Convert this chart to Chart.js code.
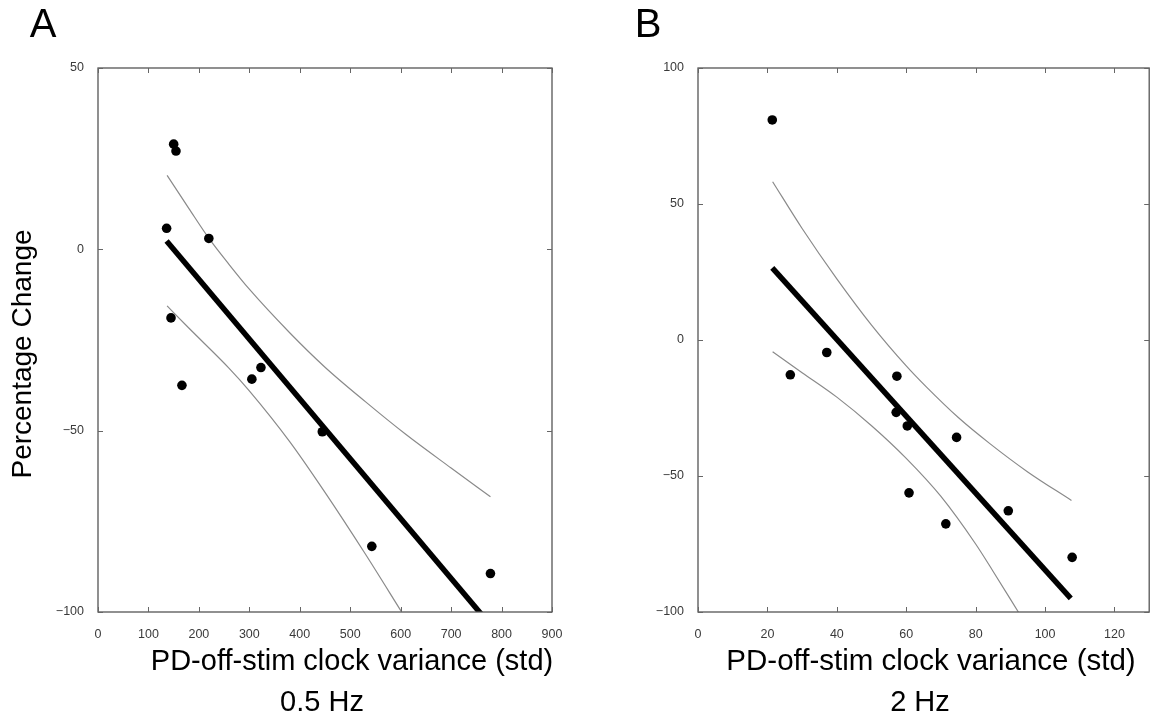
<!DOCTYPE html>
<html>
<head>
<meta charset="utf-8">
<script src="https://cdn.jsdelivr.net/npm/chart.js@4.4.0/dist/chart.umd.min.js"></script>
<style>
  html, body { margin: 0; padding: 0; background: #fff; }
  #wrap { position: relative; width: 1154px; height: 721px; overflow: hidden; }
  .cv { position: absolute; top: 0; }
</style>
</head>
<body>
<div id="wrap">
  <div class="cv" style="left:0;width:577px;height:721px;"><canvas id="ca"></canvas></div>
  <div class="cv" style="left:577px;width:577px;height:721px;"><canvas id="cb"></canvas></div>
</div>
<script>
// ---------- Panel A (0.5 Hz) ----------
const ptsAx = [150, 154.6, 136, 219.7, 144.7, 166.4, 305, 323, 444.7, 542.8, 778];
const ptsAy = [29, 27.1, 5.8, 3.0, -18.9, -37.5, -35.8, -32.6, -50.3, -81.9, -89.4];
const fitAx = [136, 778];
const fitAy = [2.3, -103.6];
const upAx = [137, 180, 220, 260, 300, 380, 450, 530, 610, 700, 778];
const upAy = [20.4, 11.3, 3.0, -4.2, -11, -23, -32.5, -42, -51, -60.3, -68.2];
const loAx = [137, 180, 260, 300, 380, 450, 530, 602];
const loAy = [-15.6, -21.7, -32.8, -39, -53, -67, -84, -100];
const ticksAx = [0, 100, 200, 300, 400, 500, 600, 700, 800, 900];
const ticksAy = [-100, -50, 0, 50];

// ---------- Panel B (2 Hz) ----------
const ptsBx = [21.4, 26.6, 37.1, 57.3, 57.1, 60.3, 74.5, 60.8, 71.4, 89.4, 107.8];
const ptsBy = [80.9, -12.8, -4.6, -13.3, -26.6, -31.6, -35.8, -56.2, -67.6, -62.8, -79.9];
const fitBx = [21.4, 107.4];
const fitBy = [26.5, -95];
const upBx = [21.5, 30, 40, 50, 60, 66, 75, 84, 95, 107.6];
const upBy = [58.2, 41, 22.5, 5.5, -9.5, -17.5, -28.5, -38, -48.5, -59];
const loBx = [21.5, 30, 40, 50, 60, 70, 80, 85, 92.3];
const loBy = [-4.3, -12, -21, -31.5, -43.5, -57.5, -75, -85, -100];
const ticksBx = [0, 20, 40, 60, 80, 100, 120];
const ticksBy = [-100, -50, 0, 50, 100];

const FONT = '"Liberation Sans", Arial, Helvetica, sans-serif';

function xy(xs, ys) { return xs.map((x, i) => ({ x: x, y: ys[i] })); }
function minus(v) { return String(v).replace('-', '\u2212'); }

const boxPlugin = {
  id: 'box',
  afterDatasetsDraw(chart) {
    const ctx = chart.ctx, a = chart.chartArea;
    const sx = chart.scales.x, sy = chart.scales.y;
    ctx.save();
    ctx.strokeStyle = '#555';
    ctx.lineWidth = 1.3;
    ctx.strokeRect(a.left, a.top, a.right - a.left, a.bottom - a.top);
    ctx.lineWidth = 1;
    ctx.strokeStyle = '#666';
    const L = 5;
    ctx.beginPath();
    sx.ticks.forEach(t => {
      const p = Math.round(sx.getPixelForValue(t.value)) + 0.5;
      ctx.moveTo(p, a.bottom); ctx.lineTo(p, a.bottom - L);
      ctx.moveTo(p, a.top); ctx.lineTo(p, a.top + L);
    });
    sy.ticks.forEach(t => {
      const p = Math.round(sy.getPixelForValue(t.value)) + 0.5;
      ctx.moveTo(a.left, p); ctx.lineTo(a.left + L, p);
      ctx.moveTo(a.right, p); ctx.lineTo(a.right - L, p);
    });
    ctx.stroke();
    ctx.restore();
  }
};

const textPlugin = {
  id: 'texts',
  afterDraw(chart, args, opts) {
    const ctx = chart.ctx;
    ctx.save();
    ctx.fillStyle = '#000';
    ctx.textAlign = 'center';
    ctx.textBaseline = 'middle';
    (opts.items || []).forEach(it => {
      ctx.save();
      ctx.font = it.size + 'px ' + FONT;
      ctx.translate(it.x, it.y);
      if (it.rot) ctx.rotate(it.rot);
      ctx.fillText(it.text, 0, 0);
      ctx.restore();
    });
    ctx.restore();
  }
};

function makeChart(id, cfg) {
  const datasets = [
    { type: 'line', data: xy(cfg.upX, cfg.upY), borderColor: '#8a8a8a', borderWidth: 1.2,
      pointRadius: 0, cubicInterpolationMode: 'monotone', fill: false, order: 3 },
    { type: 'line', data: xy(cfg.loX, cfg.loY), borderColor: '#8a8a8a', borderWidth: 1.2,
      pointRadius: 0, cubicInterpolationMode: 'monotone', fill: false, order: 3,
      clip: { left: 5, top: 5, right: 5, bottom: 0 } },
    { type: 'line', data: xy(cfg.fitX, cfg.fitY), borderColor: '#000', borderWidth: 5.5,
      pointRadius: 0, tension: 0, fill: false, order: 2,
      clip: { left: 5, top: 5, right: 5, bottom: 0 } },
    { type: 'scatter', data: xy(cfg.ptsX, cfg.ptsY), backgroundColor: '#000', borderColor: '#000',
      pointRadius: 4.8, pointBorderWidth: 0, order: 1 }
  ];
  return new Chart(document.getElementById(id), {
    type: 'scatter',
    data: { datasets: datasets },
    options: {
      responsive: true,
      maintainAspectRatio: false,
      animation: false,
      events: [],
      layout: { padding: cfg.padding },
      plugins: { legend: { display: false }, tooltip: { enabled: false }, texts: { items: cfg.texts } },
      scales: {
        x: {
          type: 'linear', min: cfg.xMin, max: cfg.xMax,
          grid: { display: false }, border: { display: false },
          afterBuildTicks: s => { s.ticks = cfg.xTicks.map(v => ({ value: v })); },
          afterFit: s => { s.height = cfg.xH; },
          ticks: { padding: 7, color: '#3a3a3a', font: { family: FONT, size: 12.5 },
                   maxRotation: 0, autoSkip: false, callback: v => minus(v) }
        },
        y: {
          type: 'linear', min: cfg.yMin, max: cfg.yMax,
          grid: { display: false }, border: { display: false },
          afterBuildTicks: s => { s.ticks = cfg.yTicks.map(v => ({ value: v })); },
          afterFit: s => { s.width = cfg.yW; },
          ticks: { padding: 6, color: '#3a3a3a', font: { family: FONT, size: 12.5 },
                   autoSkip: false, callback: v => minus(v) }
        }
      }
    },
    plugins: [boxPlugin, textPlugin]
  });
}

makeChart('ca', {
  ptsX: ptsAx, ptsY: ptsAy, fitX: fitAx, fitY: fitAy, upX: upAx, upY: upAy, loX: loAx, loY: loAy,
  xMin: 0, xMax: 900, yMin: -100, yMax: 50, xTicks: ticksAx, yTicks: ticksAy,
  padding: { top: 68, right: 25, left: 0, bottom: 0 }, xH: 109, yW: 98,
  texts: [
    { text: 'A', x: 43, y: 26, size: 40 },
    { text: 'Percentage Change', x: 23, y: 354, size: 28, rot: -Math.PI / 2 },
    { text: 'PD-off-stim clock variance (std)', x: 352, y: 662, size: 29 },
    { text: '0.5 Hz', x: 322, y: 703, size: 29 }
  ]
});

makeChart('cb', {
  ptsX: ptsBx, ptsY: ptsBy, fitX: fitBx, fitY: fitBy, upX: upBx, upY: upBy, loX: loBx, loY: loBy,
  xMin: 0, xMax: 130, yMin: -100, yMax: 100, xTicks: ticksBx, yTicks: ticksBy,
  padding: { top: 68, right: 1, left: 0, bottom: 0 }, xH: 109, yW: 121,
  texts: [
    { text: 'B', x: 648 - 577, y: 26, size: 40 },
    { text: 'PD-off-stim clock variance (std)', x: 931 - 577, y: 662, size: 29.5 },
    { text: '2 Hz', x: 920 - 577, y: 703, size: 29 }
  ]
});
</script>
</body>
</html>
